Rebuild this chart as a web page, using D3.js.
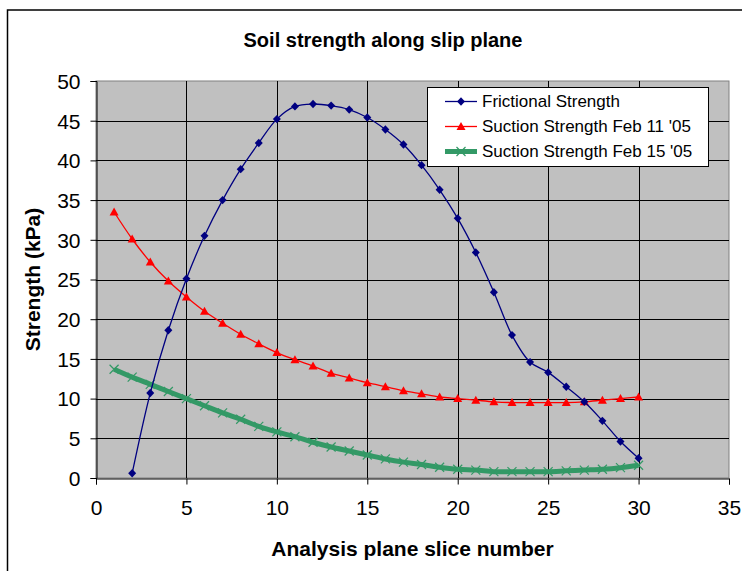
<!DOCTYPE html>
<html><head><meta charset="utf-8">
<script src="https://cdn.jsdelivr.net/npm/d3@7/dist/d3.min.js"></script>
<style>body{margin:0;background:#fff}svg{display:block}text{font-family:Arial,"Liberation Sans",sans-serif}</style>
</head><body><svg id="c" width="742" height="571"></svg>
<script>
const frictionalSlices = [2,3,4,5,6,7,8,9,10,11,12,13,14,15,16,17,18,19,20,21,22,23,24,25,26,27,28,29,30];
const frictional = [0.6,10.7,18.6,25.1,30.5,35.0,38.9,42.2,45.2,46.8,47.1,46.9,46.4,45.4,43.9,42.0,39.4,36.3,32.7,28.4,23.4,18.0,14.6,13.3,11.5,9.6,7.2,4.6,2.5];
const suctionSlices = [1,2,3,4,5,6,7,8,9,10,11,12,13,14,15,16,17,18,19,20,21,22,23,24,25,26,27,28,29,30];
const suctionFeb11 = [33.5,30.1,27.2,24.8,22.8,21.0,19.5,18.1,16.9,15.8,14.9,14.1,13.2,12.6,12.0,11.5,11.0,10.6,10.2,10.0,9.8,9.6,9.5,9.5,9.5,9.5,9.6,9.8,10.0,10.2];
const suctionFeb15 = [13.7,12.7,11.8,10.9,10.0,9.1,8.2,7.4,6.5,5.8,5.2,4.5,3.9,3.4,2.9,2.4,2.0,1.7,1.35,1.1,1.0,0.8,0.8,0.8,0.8,0.9,1.0,1.1,1.3,1.6];
const xTicks = [0,5,10,15,20,25,30,35];
const yTicks = [0,5,10,15,20,25,30,35,40,45,50];
const seriesNames = ["Frictional Strength","Suction Strength Feb 11 '05","Suction Strength Feb 15 '05"];

const svg = d3.select("#c");
const L=96, R=729, T=81, B=478;
const x = d3.scaleLinear().domain([0,35]).range([L,R]);
const y = d3.scaleLinear().domain([0,50]).range([B,T]);

// outer chart border
svg.append("rect").attr("x",7.5).attr("y",10).attr("width",800).attr("height",700)
  .attr("fill","#fff").attr("stroke","#000").attr("stroke-width",1.5);

// plot area
svg.append("rect").attr("x",L).attr("y",T).attr("width",R-L).attr("height",B-T)
  .attr("fill","#c0c0c0").attr("stroke","#808080").attr("stroke-width",1);

// grid
const g = svg.append("g");
g.selectAll("line.h").data(yTicks.filter(d=>d>0&&d<50)).join("line")
  .attr("x1",L).attr("x2",R).attr("y1",d=>Math.round(y(d))+0.5).attr("y2",d=>Math.round(y(d))+0.5)
  .attr("stroke","#000").attr("stroke-width",1);
g.selectAll("line.v").data(xTicks.filter(d=>d>0&&d<35)).join("line")
  .attr("y1",T).attr("y2",B).attr("x1",d=>Math.round(x(d))+0.5).attr("x2",d=>Math.round(x(d))+0.5)
  .attr("stroke","#000").attr("stroke-width",1);

// axes
const xAxis = svg.append("g").attr("transform",`translate(0,${B+0.5})`)
  .call(d3.axisBottom(x).tickValues(xTicks).tickSize(6).tickPadding(16).tickFormat(d3.format("d")));
const yAxis = svg.append("g").attr("transform",`translate(${L+0.5},0)`)
  .call(d3.axisLeft(y).tickValues(yTicks).tickSize(6).tickPadding(10).tickFormat(d3.format("d")));
[xAxis,yAxis].forEach(a=>{
  a.select(".domain").attr("stroke","#000").attr("stroke-width",1);
  a.selectAll(".tick line").attr("stroke","#000");
  a.selectAll(".tick text").attr("font-size",21).attr("fill","#000").style("font-family","Arial, 'Liberation Sans', sans-serif");
});
yAxis.selectAll(".tick text").attr("dy","0.35em");

// titles
svg.append("text").attr("x",383).attr("y",47).attr("text-anchor","middle")
  .attr("font-size",20).attr("font-weight","bold").text("Soil strength along slip plane");
svg.append("text").attr("x",(L+R)/2).attr("y",556).attr("text-anchor","middle")
  .attr("font-size",21).attr("font-weight","bold").text("Analysis plane slice number");
svg.append("text").attr("transform",`translate(40,${(T+B)/2}) rotate(-90)`).attr("text-anchor","middle")
  .attr("font-size",21).attr("font-weight","bold").text("Strength (kPa)");

const curve = d3.curveCatmullRom.alpha(0.5);
const line = d3.line().x(d=>x(d[0])).y(d=>y(d[1])).curve(curve);

const fData = frictionalSlices.map((s,i)=>[s,frictional[i]]);
const s11 = suctionSlices.map((s,i)=>[s,suctionFeb11[i]]);
const s15 = suctionSlices.map((s,i)=>[s,suctionFeb15[i]]);

svg.append("clipPath").attr("id","pc").append("rect").attr("x",L).attr("y",T-10).attr("width",R-L).attr("height",B-T+20);

const COL = {f:"#000080", r:"#ff0000", g:"#339966"};
const diamond = "M0,-4.2L4,0L0,4.2L-4,0Z";
const tri = "M0,-4.5L4.5,3.5L-4.5,3.5Z";
const cross = "M-4.5,-4.5L4.5,4.5M-4.5,4.5L4.5,-4.5";

// green thick line
svg.append("path").datum(s15).attr("d",line).attr("fill","none").attr("stroke",COL.g).attr("stroke-width",5);
svg.selectAll("path.gx").data(s15).join("path").attr("class","gx")
  .attr("transform",d=>`translate(${x(d[0])},${y(d[1])})`).attr("d",cross)
  .attr("stroke",COL.g).attr("stroke-width",1.2).attr("fill","none");

// red
svg.append("path").datum(s11).attr("d",line).attr("fill","none").attr("stroke",COL.r).attr("stroke-width",1.3);
svg.selectAll("path.rt").data(s11).join("path").attr("class","rt")
  .attr("transform",d=>`translate(${x(d[0])},${y(d[1])})`).attr("d",tri).attr("fill",COL.r);

// blue
svg.append("path").datum(fData).attr("d",line).attr("fill","none").attr("stroke",COL.f).attr("stroke-width",1.3)
  .attr("clip-path","url(#pc)");
svg.selectAll("path.bd").data(fData).join("path").attr("class","bd")
  .attr("transform",d=>`translate(${x(d[0])},${y(d[1])})`).attr("d",diamond).attr("fill",COL.f);

// legend
const lg = svg.append("g").attr("transform","translate(427,87)");
lg.append("rect").attr("x",0.5).attr("y",0.5).attr("width",281).attr("height",79).attr("fill","#fff").attr("stroke","#000");
const rows = [
  {name:seriesNames[0], c:COL.f, w:1.3, m:diamond, fill:true},
  {name:seriesNames[1], c:COL.r, w:1.3, m:tri, fill:true},
  {name:seriesNames[2], c:COL.g, w:5, m:cross, fill:false}
];
rows.forEach((r,i)=>{
  const yy = 14.5 + i*25;
  lg.append("line").attr("x1",18).attr("x2",50).attr("y1",yy).attr("y2",yy).attr("stroke",r.c).attr("stroke-width",r.w);
  const m = lg.append("path").attr("transform",`translate(34,${yy})`).attr("d",r.m);
  if(r.fill) m.attr("fill",r.c); else m.attr("fill","none").attr("stroke",r.c).attr("stroke-width",1.2);
  lg.append("text").attr("x",55).attr("y",yy).attr("dy","0.35em").attr("font-size",17).text(r.name);
});
</script></body></html>
